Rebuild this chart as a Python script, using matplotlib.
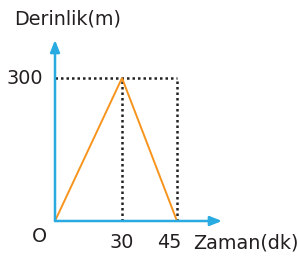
import numpy as np
import matplotlib.pyplot as plt
from matplotlib.scale import FuncScale

# data (minutes, metres)
times = [0, 30, 45]
depths = [0, 300, 0]
xticks = [30, 45]
ytop = 300

# the drawing is schematic: time axis is not evenly spaced
x_knots = [0, 30, 45, 60]
x_pix = [0, 67, 122, 177]


def fwd(x):
    return np.interp(x, x_knots, x_pix)


def inv(p):
    return np.interp(p, x_pix, x_knots)


BLUE = "#29abe2"
ORANGE = "#f7941d"
INK = "#231f20"
W, H = 298, 259

fig = plt.figure(figsize=(W / 100, H / 100), dpi=100)
x0, y0 = 55, 221
ax = fig.add_axes([x0 / W, (H - y0) / H, (222 - x0) / W, (y0 - 40) / H])
ax.set_xscale(FuncScale(ax.xaxis, (fwd, inv)))
ax.set_xlim(0, inv(222 - x0))
ax.set_ylim(0, ytop * (y0 - 40) / (y0 - 78))
ax.axis("off")

# axes with arrows
for end in [(1, 0), (0, 1)]:
    ax.annotate("", xy=end, xytext=(0, 0), xycoords="axes fraction",
                arrowprops=dict(arrowstyle="-|>,head_length=0.7,head_width=0.28",
                                color=BLUE, lw=1.8, shrinkA=0, shrinkB=0))

# dotted guides
dot = dict(color="#222222", lw=1.8, ls=(0, (1, 1.2)), dash_capstyle="butt")
ax.plot([0, xticks[-1]], [ytop, ytop], **dot)
for t in xticks:
    ax.plot([t, t], [0, ytop], **dot)

ax.plot(times, depths, color=ORANGE, lw=1.4, solid_joinstyle="miter")

fs = 13.8
fig.text(14 / W, 1 - 19 / H, "Derinlik(m)", fontsize=fs, color=INK,
         va="center", ha="left")
fig.text(43 / W, 1 - 78 / H, "300", fontsize=fs, color=INK,
         va="center", ha="right")
fig.text(39 / W, 1 - 237 / H, "O", fontsize=fs, color=INK,
         va="center", ha="center")
for t, dx in zip(xticks, [0, -8]):
    fig.text((x0 + fwd(t) + dx) / W, 1 - 243 / H, str(t), fontsize=fs,
             color=INK, va="center", ha="center")
fig.text(193 / W, 1 - 243 / H, "Zaman(dk)", fontsize=fs, color=INK,
         va="center", ha="left")

fig.savefig("out.png", dpi=100)
